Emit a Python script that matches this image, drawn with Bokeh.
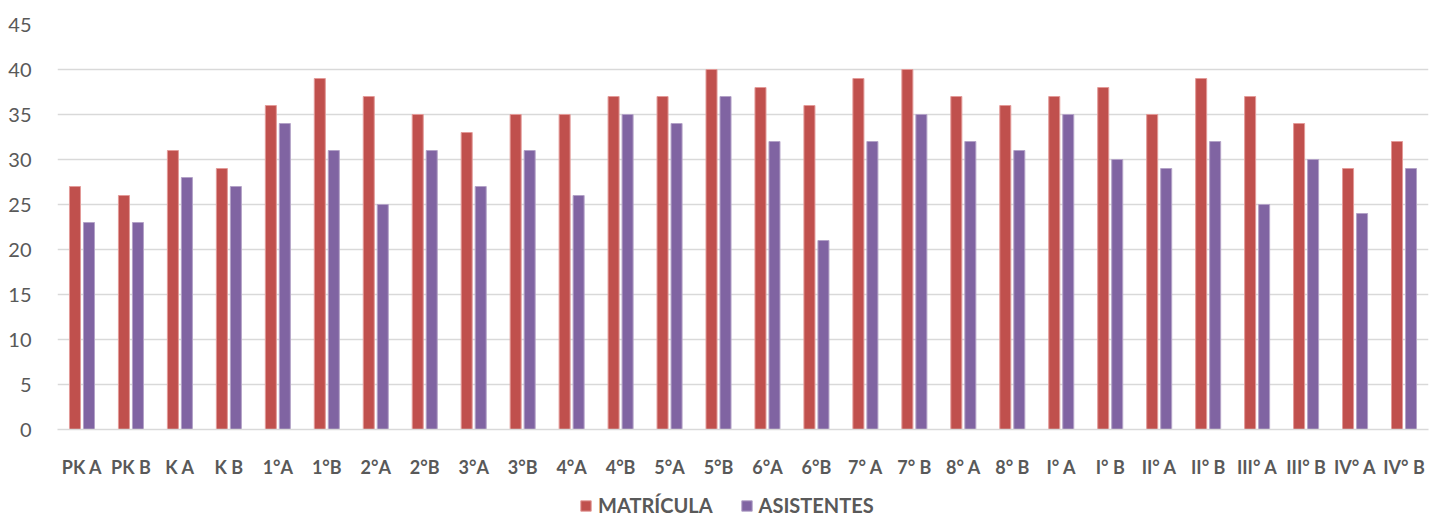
from bokeh.plotting import figure
from bokeh.layouts import column
from bokeh.models import ColumnDataSource, FactorRange, Legend, LegendItem, SingleIntervalTicker
from bokeh.transform import dodge
from bokeh.embed import file_html
from bokeh.resources import INLINE

categories = ["PK A", "PK B", "K A", "K B", "1°A", "1°B", "2°A", "2°B", "3°A", "3°B",
              "4°A", "4°B", "5°A", "5°B", "6°A", "6°B", "7° A", "7° B", "8° A", "8° B",
              "I° A", "I° B", "II° A", "II° B", "III° A", "III° B", "IV° A", "IV° B"]
matricula = [27, 26, 31, 29, 36, 39, 37, 35, 33, 35, 35, 37, 37, 40, 38, 36, 39, 40, 37, 36,
             37, 38, 35, 39, 37, 34, 29, 32]
asistentes = [23, 23, 28, 27, 34, 31, 25, 31, 27, 31, 26, 35, 34, 37, 32, 21, 32, 35, 32, 31,
              35, 30, 29, 32, 25, 30, 24, 29]
series_names = ["MATRÍCULA", "ASISTENTES"]
colors = ["#C0504D", "#8064A2"]
edges = ["#E39A98", "#B3A2C7"]

src = ColumnDataSource(dict(cat=categories, m=matricula, a=asistentes))

p = figure(width=1434, height=493, x_range=FactorRange(*categories, range_padding=0),
           y_range=(0, 45), output_backend="svg", toolbar_location=None,
           min_border_left=57, min_border_right=6, min_border_top=24, min_border_bottom=64)
p.x_range.range_padding = 0
p.outline_line_color = None

p.vbar(x=dodge("cat", -0.143, range=p.x_range), top="m", width=0.225, source=src,
       fill_color=colors[0], line_color=edges[0], line_width=1)
p.vbar(x=dodge("cat", 0.143, range=p.x_range), top="a", width=0.225, source=src,
       fill_color=colors[1], line_color=edges[1], line_width=1)

p.yaxis.ticker = SingleIntervalTicker(interval=5)
p.ygrid.grid_line_color = "#D9D9D9"
p.ygrid.grid_line_width = 1.5
p.xgrid.grid_line_color = None
p.yaxis.axis_line_color = None
p.yaxis.major_tick_line_color = None
p.yaxis.minor_tick_line_color = None
p.yaxis.major_tick_out = 0
p.yaxis.major_label_standoff = 22
p.yaxis.major_label_text_font = "Lato"
p.yaxis.major_label_text_font_size = "20px"
p.yaxis.major_label_text_color = "#595959"

p.xaxis.axis_line_color = "#D9D9D9"
p.xaxis.axis_line_width = 1.5
p.xaxis.major_tick_line_color = None
p.xaxis.minor_tick_line_color = None
p.xaxis.major_tick_out = 0
p.xaxis.major_label_standoff = 26
p.xaxis.major_label_text_font = "Lato"
p.xaxis.major_label_text_font_style = "bold"
p.xaxis.major_label_text_font_size = "18px"
p.xaxis.major_label_text_color = "#595959"

# legend strip: same series, drawn outside its visible range so only the legend shows
lg = figure(width=1434, height=24, x_range=FactorRange(*categories), y_range=(1000, 1001),
            output_backend="svg", toolbar_location=None, x_axis_type=None, y_axis_type=None,
            min_border=0)
lg.outline_line_color = None
lg.xgrid.visible = False
lg.ygrid.visible = False
g1 = lg.vbar(x="cat", top="m", width=0.2, source=src, fill_color=colors[0], line_color=edges[0])
g2 = lg.vbar(x="cat", top="a", width=0.2, source=src, fill_color=colors[1], line_color=edges[1])
legend = Legend(items=[LegendItem(label=series_names[0], renderers=[g1]),
                       LegendItem(label=series_names[1], renderers=[g2])],
                orientation="horizontal", location=(522, 0), margin=0, padding=0,
                spacing=27, label_standoff=6, glyph_width=13, glyph_height=13,
                border_line_color=None, background_fill_alpha=0,
                label_text_font="Lato", label_text_font_style="bold",
                label_text_font_size="20px", label_text_color="#595959")
lg.add_layout(legend, "center")

layout = column(p, lg, spacing=0)
open("out.html", "w").write(file_html(layout, INLINE))
